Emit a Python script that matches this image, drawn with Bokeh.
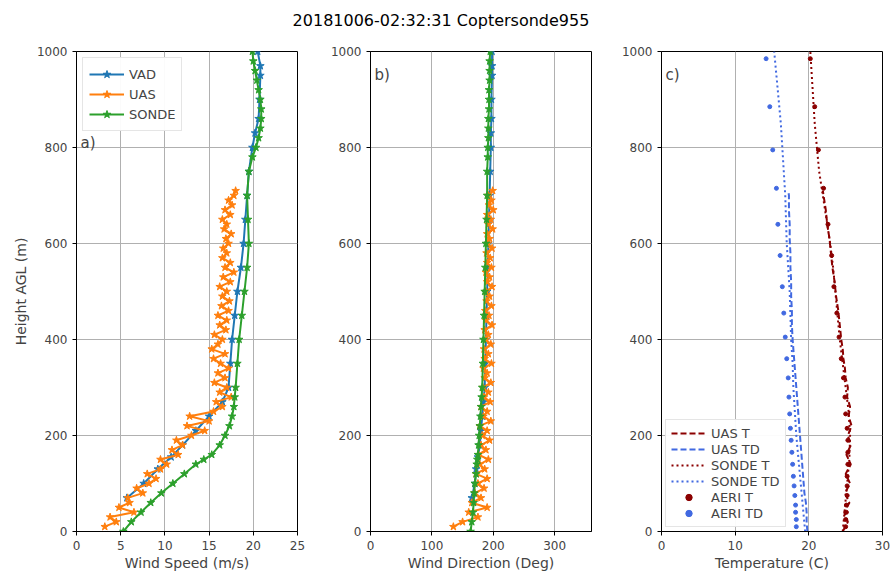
from bokeh.plotting import figure
from bokeh.layouts import row, column
from bokeh.models import Div, Label, Legend, LegendItem, FixedTicker
from bokeh.embed import file_html
from bokeh.resources import INLINE

TITLE = "20181006-02:32:31 Coptersonde955"

vad_h = [70, 100, 130, 155, 180, 210, 240, 270, 300, 350, 400, 450, 500, 550, 600, 650, 700, 750, 800, 830, 860, 900, 950, 970, 1000]
vad_spd = [5.7, 7.6, 9.2, 10.7, 12.0, 13.5, 15.0, 16.5, 17.2, 17.4, 17.6, 17.9, 18.2, 18.6, 18.9, 19.1, 19.3, 19.5, 19.9, 20.2, 20.6, 20.7, 20.8, 20.8, 20.5]
vad_dir = [165, 170, 172, 175, 178, 180, 182, 184, 186, 187, 188, 189, 190, 191, 192, 193, 194, 195, 196, 196, 197, 197, 198, 198, 198]

sonde_h = [0, 20, 40, 60, 80, 100, 120, 140, 150, 160, 180, 200, 220, 240, 260, 280, 300, 350, 400, 450, 500, 550, 600, 650, 700, 750, 780, 800, 820, 840, 860, 880, 900, 920, 940, 960, 980, 1000]
sonde_spd = [5.3, 6.2, 7.3, 8.4, 9.6, 10.9, 12.2, 13.5, 14.4, 15.3, 16.2, 16.8, 17.3, 17.6, 17.8, 17.9, 18.0, 18.2, 18.4, 18.7, 19.0, 19.3, 19.5, 19.4, 19.3, 19.5, 19.9, 20.3, 20.6, 20.8, 20.9, 20.9, 20.8, 20.6, 20.4, 20.2, 20.0, 19.9]
sonde_dir = [163, 165, 167, 168, 169, 170, 172, 173, 174, 175, 176, 177, 178, 179, 180, 181, 182, 183, 184, 185, 186, 187, 188, 189, 190, 190, 191, 191, 192, 192, 192, 193, 193, 193, 194, 194, 194, 195]

uas_h = [10, 20, 30, 40, 50, 60, 70, 80, 90, 100, 110, 120, 130, 140, 150, 160, 170, 180, 190, 200,
         210, 220, 230, 240, 250, 260, 270, 280, 290, 300, 310, 320, 330, 340, 350, 360, 370, 380, 390, 400,
         410, 420, 430, 440, 450, 460, 470, 480, 490, 500, 510, 520, 530, 540, 550, 560, 570, 580, 590, 600,
         610, 620, 630, 640, 650, 660, 670, 680, 690, 700, 710]
uas_spd = [3.2, 4.5, 3.8, 6.5, 4.8, 6.0, 5.8, 7.5, 6.8, 8.2, 9.0, 8.0, 9.5, 10.2, 9.5, 11.5, 10.8, 12.0, 11.3, 13.0,
           14.5, 12.5, 15.0, 12.8, 15.5, 16.5, 15.8, 17.5, 16.2, 17.0, 15.6, 16.8, 16.0, 17.2, 16.3, 15.5, 16.8, 15.3, 16.0, 16.5,
           15.6, 16.9, 16.2, 17.0, 16.0, 17.2, 16.4, 17.3, 16.5, 17.0, 16.2, 17.4, 16.6, 17.8, 16.8, 17.4, 16.5, 17.0, 16.6, 17.2,
           16.9, 17.5, 16.7, 17.0, 16.5, 17.4, 16.8, 17.6, 17.2, 17.8, 18.0]
uas_dir = [135, 150, 175, 160, 190, 165, 180, 170, 185, 175, 190, 172, 186, 178, 192, 176, 188, 180, 194, 182,
           190, 178, 196, 184, 190, 180, 195, 185, 192, 183, 196, 186, 190, 184, 197, 186, 192, 185, 196, 188,
           192, 186, 198, 188, 193, 187, 197, 189, 194, 188, 198, 190, 194, 188, 197, 190, 195, 189, 198, 191,
           194, 190, 199, 192, 196, 190, 200, 193, 197, 192, 199]

uas_t_h = [0, 20, 40, 60, 80, 100, 120, 140, 160, 180, 200, 220, 240, 260, 280, 300, 320, 340, 360, 380, 400,
           430, 460, 490, 520, 550, 580, 610, 640, 670, 700, 710]
uas_t = [24.6, 25.3, 24.8, 25.5, 24.9, 25.6, 25.0, 25.7, 25.1, 25.7, 25.3, 25.8, 25.4, 25.6, 25.2, 25.3, 25.0, 24.9, 24.7, 24.6, 24.4,
         24.2, 24.0, 23.7, 23.5, 23.2, 23.0, 22.8, 22.5, 22.3, 22.0, 21.9]
uas_td = [19.8, 19.7, 19.7, 19.6, 19.4, 19.3, 19.2, 19.1, 19.0, 18.9, 18.8, 18.7, 18.6, 18.5, 18.4, 18.3, 18.2, 18.1, 18.0, 17.9, 17.8,
          17.7, 17.7, 17.6, 17.6, 17.5, 17.5, 17.4, 17.4, 17.3, 17.3, 17.2]

s_t_h = [0, 50, 100, 150, 200, 250, 300, 350, 400, 450, 500, 550, 600, 650, 700, 750, 800, 850, 900, 950, 1000]
s_t = [24.6, 24.9, 25.2, 25.5, 25.6, 25.4, 25.0, 24.6, 24.2, 23.9, 23.6, 23.3, 22.9, 22.4, 21.9, 21.4, 21.1, 20.8, 20.6, 20.4, 20.2]
s_td = [19.5, 19.2, 18.9, 18.6, 18.3, 18.1, 17.9, 17.8, 17.6, 17.5, 17.4, 17.2, 17.0, 16.9, 16.8, 16.6, 16.4, 16.2, 15.9, 15.6, 15.3]

aeri_h = [10, 25, 40, 55, 75, 95, 115, 140, 165, 190, 215, 245, 280, 320, 360, 405, 455, 510, 575, 640, 715, 795, 885, 985]
aeri_t = [25.0, 25.0, 25.1, 25.1, 25.2, 25.2, 25.2, 25.3, 25.3, 25.3, 25.2, 25.0, 24.9, 24.7, 24.4, 24.1, 23.8, 23.4, 23.1, 22.6, 22.0, 21.3, 20.8, 20.2]
aeri_td = [18.3, 18.3, 18.2, 18.2, 18.1, 18.0, 17.9, 17.8, 17.7, 17.6, 17.5, 17.4, 17.3, 17.2, 17.0, 16.8, 16.6, 16.4, 16.1, 15.8, 15.6, 15.1, 14.7, 14.2]

FONT = "DejaVu Sans"
C_B, C_O, C_G = "#1f77b4", "#ff7f0e", "#2ca02c"


def mk(xr, xticks, xlabel, ylabel, left):
    p = figure(output_backend="svg", toolbar_location=None, frame_width=221, frame_height=480,
               x_range=xr, y_range=(0, 1000), min_border_left=left, min_border_right=10,
               min_border_top=8, min_border_bottom=36)
    p.xaxis.ticker = FixedTicker(ticks=xticks)
    p.yaxis.ticker = FixedTicker(ticks=[0, 200, 400, 600, 800, 1000])
    p.xaxis.axis_label = xlabel
    if ylabel:
        p.yaxis.axis_label = ylabel
    for ax in (p.xaxis, p.yaxis):
        ax.axis_label_text_font = FONT
        ax.axis_label_text_font_style = "normal"
        ax.axis_label_text_font_size = "14px"
        ax.major_label_text_font = FONT
        ax.major_label_text_font_size = "12px"
        ax.minor_tick_line_color = None
        ax.major_tick_in = 0
        ax.major_tick_out = 4
        ax.axis_line_color = "black"
    p.xaxis.axis_label_standoff = 2
    for g in (p.xgrid, p.ygrid):
        g.grid_line_color = "#b0b0b0"
        g.grid_line_width = 1
    p.outline_line_color = "black"
    return p


def lab(p, t, y):
    p.add_layout(Label(x=4, y=y, x_units="screen", y_units="screen", text=t,
                       text_font=FONT, text_font_size="15px"))


pa = mk((0, 25), [0, 5, 10, 15, 20, 25], "Wind Speed (m/s)", "Height AGL (m)", 76)
items = []
for x, y, c, n in [(vad_spd, vad_h, C_B, "VAD"), (uas_spd, uas_h, C_O, "UAS"), (sonde_spd, sonde_h, C_G, "SONDE")]:
    l = pa.line(x, y, color=c, line_width=2)
    s = pa.scatter(x, y, marker="star", size=8, color=c)
    items.append(LegendItem(label=n, renderers=[l, s]))
pa.add_layout(Legend(items=items, location="top_left", label_text_font=FONT, label_text_font_size="13px",
                     border_line_color="#cccccc", spacing=0, padding=6, glyph_width=35, margin=6))
lab(pa, "a)", 380)

pb = mk((0, 360), [0, 100, 200, 300], "Wind Direction (Deg)", None, 63)
for x, y, c in [(vad_dir, vad_h, C_B), (uas_dir, uas_h, C_O), (sonde_dir, sonde_h, C_G)]:
    pb.line(x, y, color=c, line_width=2)
    pb.scatter(x, y, marker="star", size=8, color=c)
lab(pb, "b)", 448)

pc = mk((0, 30), [0, 10, 20, 30], "Temperature (C)", None, 60)
pc.min_border_right = 8
DR, RB = "#8b0000", "#4169e1"
r1 = pc.line(uas_t, uas_t_h, color=DR, line_width=2, line_dash="6 3")
r2 = pc.line(uas_td, uas_t_h, color=RB, line_width=2, line_dash="6 3")
r3 = pc.line(s_t, s_t_h, color=DR, line_width=2, line_dash="2 3")
r4 = pc.line(s_td, s_t_h, color=RB, line_width=2, line_dash="2 3")
r5 = pc.scatter(aeri_t, aeri_h, color=DR, size=4)
r6 = pc.scatter(aeri_td, aeri_h, color=RB, size=4)
pc.add_layout(Legend(items=[LegendItem(label=n, renderers=[r]) for n, r in
                            [("UAS T", r1), ("UAS TD", r2), ("SONDE T", r3), ("SONDE TD", r4), ("AERI T", r5), ("AERI TD", r6)]],
                     location="bottom_left", label_text_font=FONT, label_text_font_size="13px",
                     border_line_color="#cccccc", spacing=0, padding=5, glyph_width=35, margin=4,
                     label_height=16, glyph_height=16))
lab(pc, "c)", 448)

title = Div(text=f'<div style="width:882px;text-align:center;font-family:DejaVu Sans;font-size:16px;padding-top:10px;">{TITLE}</div>',
            width=882, height=43, styles={"margin": "0"})
layout = column(title, row(pa, pb, pc, spacing=0), spacing=0)
open("out.html", "w").write(file_html(layout, INLINE))
